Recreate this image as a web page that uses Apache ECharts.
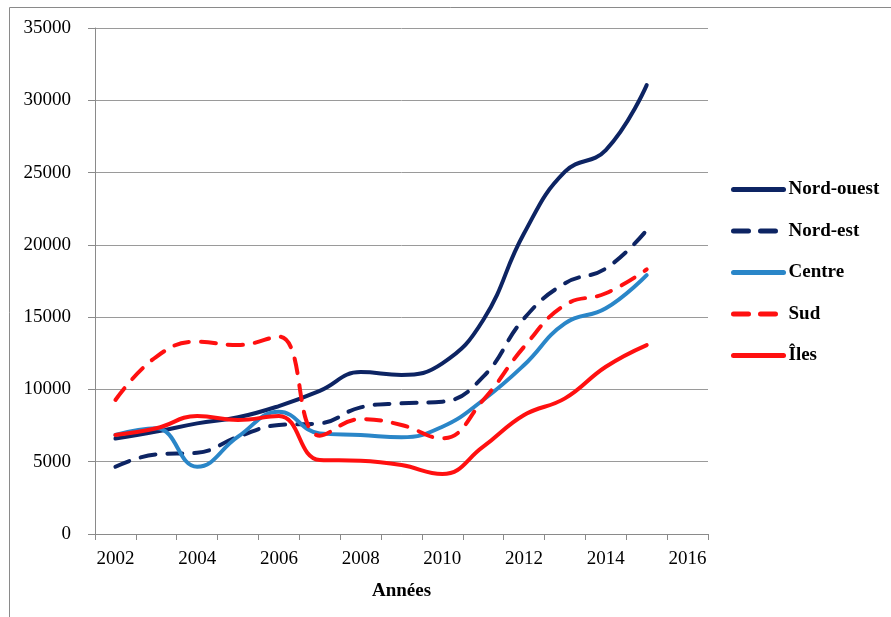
<!DOCTYPE html>
<html>
<head>
<meta charset="utf-8">
<script src="https://cdn.jsdelivr.net/npm/echarts@6/dist/echarts.min.js"></script>
<style>html,body{margin:0;padding:0;background:#fff}#c{width:891px;height:617px}</style>
</head>
<body>
<div id="c"></div>
<script>
var years = ['2002','2003','2004','2005','2006','2007','2008','2009','2010','2011','2012','2013','2014','2015','2016'];
var nordOuest = [6600, 7080, 7650, 8070, 8850, 9900, 11200, 11000, 11800, 14800, 20800, 25060, 26560, 31050];
var nordEst   = [4650, 5510, 5620, 6730, 7540, 7650, 8760, 9040, 9150, 10880, 14910, 17340, 18370, 21020];
var centre    = [6850, 7310, 4650, 6730, 8460, 6960, 6850, 6690, 7420, 9270, 11690, 14570, 15610, 17910];
var sud       = [9270, 12260, 13300, 13070, 13650, 6800, 7950, 7540, 6620, 9270, 12950, 15840, 16650, 18300];
var iles      = [6850, 7310, 8160, 7880, 8160, 5120, 5070, 4770, 4150, 6040, 8230, 9380, 11570, 13070];
var yTicks = { min: 0, max: 35000, interval: 5000 };

var FONT = "'Liberation Serif','Times New Roman',serif";
var navy = '#0d2463', blue = '#2a86c8', red = '#ff1010';
function mk(name, data, color, dashed) {
  return {
    name: name, type: 'line', data: data, smooth: 0.45, symbol: 'none',
    lineStyle: { color: color, width: 4, type: dashed ? [15, 12] : 'solid', cap: 'round', join: 'round' },
    itemStyle: { color: color }
  };
}
var chart = echarts.init(document.getElementById('c'), null, { renderer: 'canvas' });
chart.setOption({
  animation: false,
  backgroundColor: '#fff',
  graphic: [{ type: 'rect', shape: { x: 9.5, y: 7.5, width: 1000, height: 1000 }, style: { fill: 'none', stroke: '#8a8a8a', lineWidth: 1 }, silent: true }],
  grid: { left: 95, right: 183, top: 28, bottom: 83 },
  legend: {
    orient: 'vertical', left: 726, top: 175, itemWidth: 50, itemHeight: 18, itemGap: 22.5,
    itemStyle: { opacity: 0 },
    lineStyle: { width: 5 },
    textStyle: { fontFamily: FONT, fontSize: 19, fontWeight: 'bold', color: '#000' },
    data: ['Nord-ouest', 'Nord-est', 'Centre', 'Sud', 'Îles']
  },
  xAxis: {
    type: 'category', data: years, boundaryGap: true,
    name: 'Années', nameLocation: 'middle', nameGap: 48,
    nameTextStyle: { fontFamily: FONT, fontSize: 19, fontWeight: 'bold', color: '#000' },
    axisLine: { lineStyle: { color: '#8a8a8a', width: 1 } },
    axisTick: { show: true, interval: 0, length: 6, lineStyle: { color: '#8a8a8a' } },
    axisLabel: { interval: 1, margin: 16, fontFamily: FONT, fontSize: 19, color: '#000' },
    splitLine: { show: false }
  },
  yAxis: {
    type: 'value', min: yTicks.min, max: yTicks.max, interval: yTicks.interval,
    axisLine: { show: true, lineStyle: { color: '#8a8a8a', width: 1 } },
    axisTick: { show: true, length: 7, lineStyle: { color: '#8a8a8a' } },
    axisLabel: { margin: 24, fontFamily: FONT, fontSize: 19, color: '#000', formatter: function (v) { return String(v); } },
    splitLine: { lineStyle: { color: '#9a9a9a', width: 1 } }
  },
  series: [
    mk('Nord-ouest', nordOuest, navy, false),
    mk('Nord-est', nordEst, navy, true),
    mk('Centre', centre, blue, false),
    mk('Sud', sud, red, true),
    mk('Îles', iles, red, false)
  ]
});
</script>
</body>
</html>
